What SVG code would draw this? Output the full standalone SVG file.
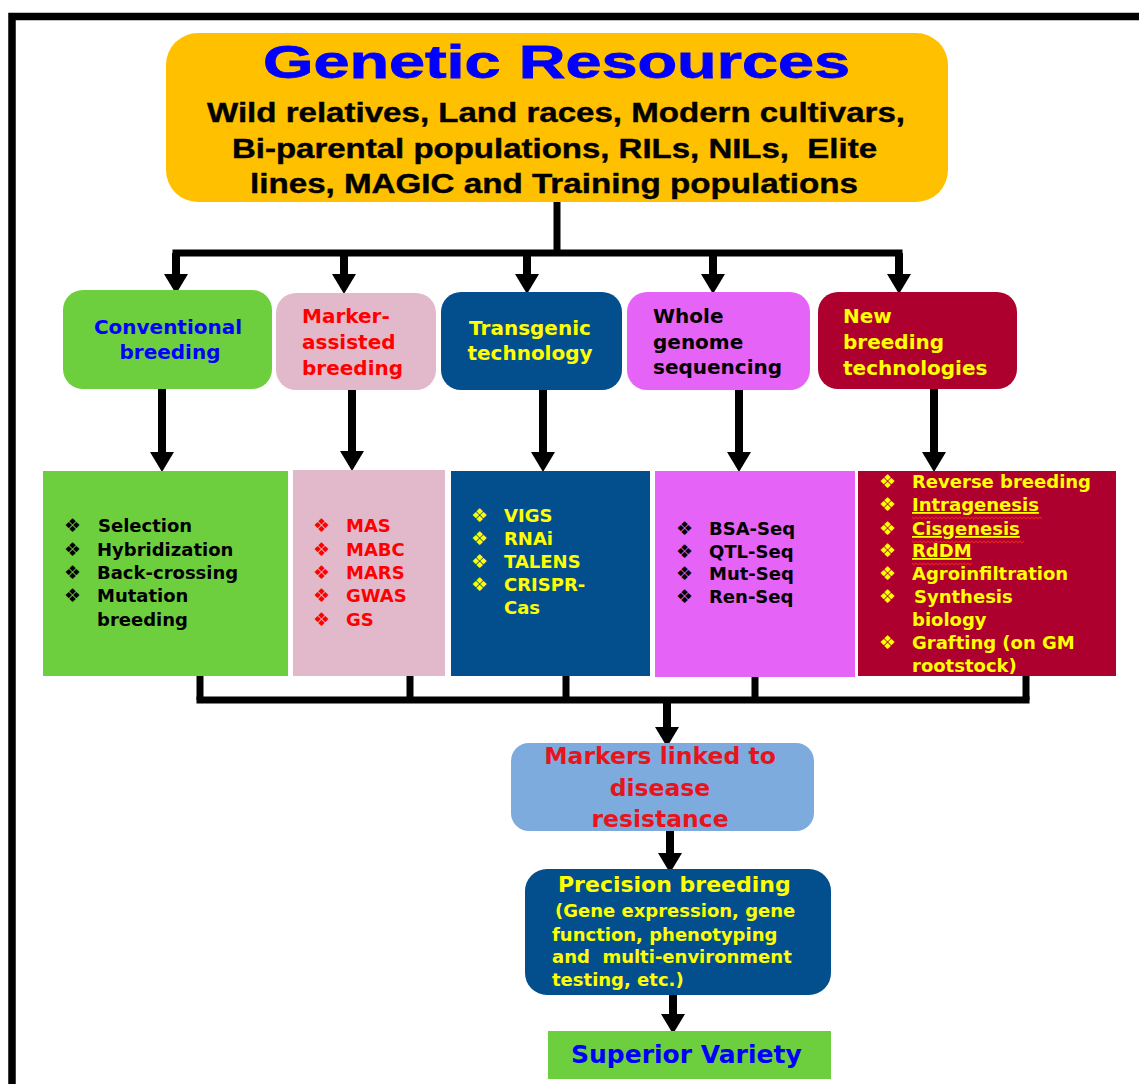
<svg xmlns="http://www.w3.org/2000/svg" width="1139" height="1084" viewBox="0 0 1139 1084">
<style>
.t{font-family:"DejaVu Sans","Verdana",sans-serif;font-weight:bold}
.a{font-family:"Liberation Sans",Arial,sans-serif;font-weight:bold}
.h{font-size:20px}
.s{font-size:18px}
.b{font-size:19px;font-family:"DejaVu Sans",sans-serif}
.conn{fill:none;stroke:#000;stroke-width:7}
.arr{fill:none;stroke:#000;stroke-width:8;marker-end:url(#ah)}
.wavy{fill:none;stroke:#e02020;stroke-width:1.2}
</style>
<defs>
<marker id="ah" markerUnits="userSpaceOnUse" markerWidth="22" markerHeight="24" refX="0" refY="12" orient="auto" overflow="visible">
<path d="M0,0 L20,12 L0,24 Z" fill="#000"/>
</marker>
</defs>
<rect width="1139" height="1084" fill="#fff"/>
<path d="M12,1084 V16.5 H1139" fill="none" stroke="#000" stroke-width="7.5"/>

<g id="connectors">
<path class="conn" d="M557,202 V253"/>
<path class="conn" d="M172.5,253 H902.5"/>
<path class="arr" d="M176,253 V274"/>
<path class="arr" d="M344,253 V274"/>
<path class="arr" d="M527,253 V274"/>
<path class="arr" d="M713,253 V274"/>
<path class="arr" d="M899,253 V274"/>
<path class="arr" d="M162,389 V452"/>
<path class="arr" d="M352,390 V451"/>
<path class="arr" d="M543,390 V452"/>
<path class="arr" d="M739,390 V452"/>
<path class="arr" d="M934,389 V452"/>
<path class="conn" d="M200,676 V700 M410,676 V700 M566,676 V700 M755,676 V700 M1026,676 V700"/>
<path class="conn" d="M196.5,700 H1029.5"/>
<path class="arr" d="M667,700 V727"/>
<path class="arr" d="M670,831 V853"/>
<path class="arr" d="M673,985 V1014"/>
</g>

<g id="genetic-resources">
<rect x="166" y="33" width="782" height="169" rx="32" fill="#FFC000"/>
<text class="a" x="263" y="78" font-size="47" fill="#0000FF" stroke="#0000FF" stroke-width="0.8" textLength="587" lengthAdjust="spacingAndGlyphs">Genetic Resources</text>
<g fill="#000" stroke="#000" stroke-width="0.4">
<text class="a" x="207" y="122" font-size="27" textLength="698" lengthAdjust="spacingAndGlyphs">Wild relatives, Land races, Modern cultivars,</text>
<text class="a" x="232" y="158" font-size="27" textLength="645" lengthAdjust="spacingAndGlyphs" xml:space="preserve">Bi-parental populations, RILs, NILs,  Elite</text>
<text class="a" x="250" y="193" font-size="27" textLength="608" lengthAdjust="spacingAndGlyphs">lines, MAGIC and Training populations</text>
</g>
</g>

<g id="conventional-breeding">
<rect x="63" y="290" width="209" height="99" rx="20" fill="#6ECF3E"/>
<text class="t h" fill="#0000FF" text-anchor="middle"><tspan x="168" y="334">Conventional</tspan><tspan x="170" y="359">breeding</tspan></text>
</g>
<g id="marker-assisted-breeding">
<rect x="276" y="293" width="160" height="97" rx="20" fill="#E2B9CB"/>
<text class="t h" fill="#FF0000"><tspan x="302" y="323">Marker-</tspan><tspan x="302" y="349">assisted</tspan><tspan x="302" y="375">breeding</tspan></text>
</g>
<g id="transgenic-technology">
<rect x="441" y="292" width="181" height="98" rx="20" fill="#034F8E"/>
<text class="t h" fill="#FFFF00" text-anchor="middle"><tspan x="530" y="335">Transgenic</tspan><tspan x="530" y="360">technology</tspan></text>
</g>
<g id="whole-genome-sequencing">
<rect x="627" y="292" width="183" height="98" rx="20" fill="#E563F6"/>
<text class="t h" fill="#000"><tspan x="653" y="323">Whole</tspan><tspan x="653" y="349">genome</tspan><tspan x="653" y="374">sequencing</tspan></text>
</g>
<g id="new-breeding-technologies">
<rect x="818" y="292" width="199" height="97" rx="20" fill="#AD002F"/>
<text class="t h" fill="#FFFF00"><tspan x="843" y="323">New</tspan><tspan x="843" y="349">breeding</tspan><tspan x="843" y="375">technologies</tspan></text>
</g>

<g id="conventional-methods">
<rect x="43" y="471" width="245" height="205" fill="#6ECF3E"/>
<g fill="#000">
<text class="b" x="64" y="532">❖</text><text class="b" x="64" y="556">❖</text><text class="b" x="64" y="579">❖</text><text class="b" x="64" y="602">❖</text>
<text class="t s" x="98" y="532">Selection</text>
<text class="t s" x="97" y="556">Hybridization</text>
<text class="t s" x="97" y="579">Back-crossing</text>
<text class="t s" x="97" y="602">Mutation</text>
<text class="t s" x="97" y="626">breeding</text>
</g>
</g>
<g id="marker-methods">
<rect x="293" y="470" width="152" height="206" fill="#E2B9CB"/>
<g fill="#FF0000">
<text class="b" x="313" y="532">❖</text><text class="b" x="313" y="556">❖</text><text class="b" x="313" y="579">❖</text><text class="b" x="313" y="602">❖</text><text class="b" x="313" y="626">❖</text>
<text class="t s" x="346" y="532">MAS</text>
<text class="t s" x="346" y="556">MABC</text>
<text class="t s" x="346" y="579">MARS</text>
<text class="t s" x="346" y="602">GWAS</text>
<text class="t s" x="346" y="626">GS</text>
</g>
</g>
<g id="transgenic-methods">
<rect x="451" y="471" width="199" height="205" fill="#034F8E"/>
<g fill="#FFFF00">
<text class="b" x="471" y="522">❖</text><text class="b" x="471" y="545">❖</text><text class="b" x="471" y="568">❖</text><text class="b" x="471" y="591">❖</text>
<text class="t s" x="504" y="522">VIGS</text>
<text class="t s" x="504" y="545">RNAi</text>
<text class="t s" x="504" y="568">TALENS</text>
<text class="t s" x="504" y="591">CRISPR-</text>
<text class="t s" x="504" y="614">Cas</text>
</g>
</g>
<g id="sequencing-methods">
<rect x="655" y="471" width="200" height="206" fill="#E563F6"/>
<g fill="#000">
<text class="b" x="676" y="535">❖</text><text class="b" x="676" y="558">❖</text><text class="b" x="676" y="580">❖</text><text class="b" x="676" y="603">❖</text>
<text class="t s" x="709" y="535">BSA-Seq</text>
<text class="t s" x="709" y="558">QTL-Seq</text>
<text class="t s" x="709" y="580">Mut-Seq</text>
<text class="t s" x="709" y="603">Ren-Seq</text>
</g>
</g>
<g id="nbt-methods">
<rect x="858" y="471" width="258" height="205" fill="#AD002F"/>
<g fill="#FFFF00">
<text class="b" x="879" y="488">❖</text><text class="b" x="879" y="511">❖</text><text class="b" x="879" y="535">❖</text><text class="b" x="879" y="557">❖</text><text class="b" x="879" y="580">❖</text><text class="b" x="879" y="603">❖</text><text class="b" x="879" y="649">❖</text>
<text class="t s" x="912" y="488">Reverse breeding</text>
<text class="t s" x="912" y="511" text-decoration="underline">Intragenesis</text>
<text class="t s" x="912" y="535" text-decoration="underline">Cisgenesis</text>
<text class="t s" x="912" y="557" text-decoration="underline">RdDM</text>
<text class="t s" x="912" y="580">Agroinfiltration</text>
<text class="t s" x="914" y="603">Synthesis</text>
<text class="t s" x="912" y="626">biology</text>
<text class="t s" x="912" y="649">Grafting (on GM</text>
<text class="t s" x="912" y="672">rootstock)</text>
</g>
<path class="wavy" d="M912,517 l2,2 l2,-2 l2,2 l2,-2 l2,2 l2,-2 l2,2 l2,-2 l2,2 l2,-2 l2,2 l2,-2 l2,2 l2,-2 l2,2 l2,-2 l2,2 l2,-2 l2,2 l2,-2 l2,2 l2,-2 l2,2 l2,-2 l2,2 l2,-2 l2,2 l2,-2 l2,2 l2,-2 l2,2 l2,-2 l2,2 l2,-2 l2,2 l2,-2 l2,2 l2,-2 l2,2 l2,-2 l2,2 l2,-2 l2,2 l2,-2 l2,2 l2,-2 l2,2 l2,-2 l2,2 l2,-2 l2,2 l2,-2 l2,2 l2,-2 l2,2 l2,-2 l2,2 l2,-2 l2,2 l2,-2 l2,2 l2,-2 l2,2 l2,-2 l2,2"/>
<path class="wavy" d="M912,541 l2,2 l2,-2 l2,2 l2,-2 l2,2 l2,-2 l2,2 l2,-2 l2,2 l2,-2 l2,2 l2,-2 l2,2 l2,-2 l2,2 l2,-2 l2,2 l2,-2 l2,2 l2,-2 l2,2 l2,-2 l2,2 l2,-2 l2,2 l2,-2 l2,2 l2,-2 l2,2 l2,-2 l2,2 l2,-2 l2,2 l2,-2 l2,2 l2,-2 l2,2 l2,-2 l2,2 l2,-2 l2,2 l2,-2 l2,2 l2,-2 l2,2 l2,-2 l2,2 l2,-2 l2,2 l2,-2 l2,2 l2,-2 l2,2 l2,-2 l2,2 l2,-2"/>
<path class="wavy" d="M912,563 l2,2 l2,-2 l2,2 l2,-2 l2,2 l2,-2 l2,2 l2,-2 l2,2 l2,-2 l2,2 l2,-2 l2,2 l2,-2 l2,2 l2,-2 l2,2 l2,-2 l2,2 l2,-2 l2,2 l2,-2 l2,2 l2,-2 l2,2 l2,-2 l2,2 l2,-2 l2,2 l2,-2"/>
</g>

<g id="markers-disease-resistance">
<rect x="511" y="743" width="303" height="88" rx="18" fill="#7DABDE"/>
<text class="t" font-size="23.5" fill="#E8141C" text-anchor="middle"><tspan x="660" y="764">Markers linked to</tspan><tspan x="660" y="796">disease</tspan><tspan x="660" y="827">resistance</tspan></text>
</g>
<g id="precision-breeding">
<rect x="525" y="869" width="306" height="126" rx="22" fill="#034F8E"/>
<g fill="#FFFF00">
<text class="t" font-size="22" x="558" y="892">Precision breeding</text>
<text class="t s" x="555" y="917">(Gene expression, gene</text>
<text class="t s" x="552" y="941">function, phenotyping</text>
<text class="t s" x="552" y="963" xml:space="preserve">and  multi-environment</text>
<text class="t s" x="552" y="986">testing, etc.)</text>
</g>
</g>
<g id="superior-variety">
<rect x="548" y="1031" width="283" height="48" fill="#6ECF3E"/>
<text class="t" font-size="25" fill="#0000FF" x="571" y="1063">Superior Variety</text>
</g>
</svg>
